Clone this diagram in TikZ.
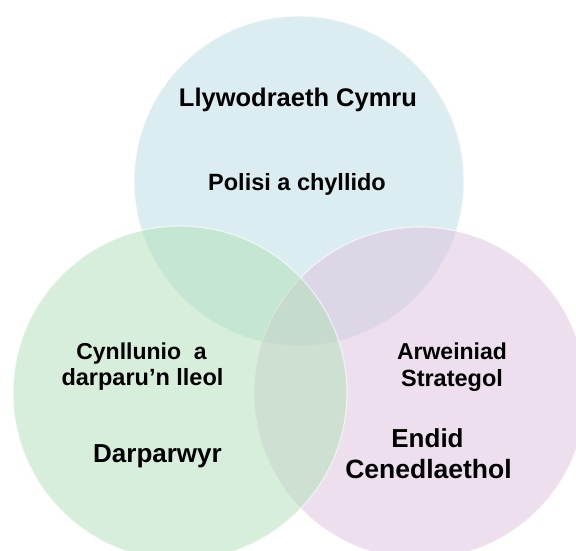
\documentclass[tikz,border=0pt]{standalone}
\usepackage{fontspec}
\setmainfont{Liberation Sans}
\definecolor{cblue}{RGB}{185,221,227}
\definecolor{cgreen}{RGB}{177,225,183}
\definecolor{cpink}{RGB}{221,193,221}
\tikzset{
  venn/.style={circle, minimum size=#1, inner sep=0pt, fill opacity=0.5, draw=white, draw opacity=0.6, line width=1.2pt},
  lbl/.style={anchor=base, inner sep=0pt, font=\bfseries\fontsize{#1}{#1}\selectfont, text=black},
}
\begin{document}
\begin{tikzpicture}[x=1pt,y=-1pt]
\useasboundingbox[fill=white] (0,0) rectangle (576,550);
\node[venn=330pt, fill=cblue]  (top)   at (299,181) {};
\node[venn=332pt, fill=cpink]  (right) at (420,393) {};
\node[venn=334pt, fill=cgreen] (left)  at (180,393) {};
\node[lbl=25.5] (t1) at (298,106) {Llywodraeth Cymru};
\node[lbl=23.5] (t2) at (297,190) {Polisi a chyllido};
\node[lbl=23]   (l1) at (141.5,359) {Cynllunio~~a};
\node[lbl=23.5] (l2) at (142.5,385) {darparu’n lleol};
\node[lbl=26]   (l3) at (157.5,462) {Darparwyr};
\node[lbl=23]   (r1) at (452,359) {Arweiniad};
\node[lbl=23.5] (r2) at (452,386) {Strategol};
\node[lbl=26]   (r3) at (427.5,447) {Endid};
\node[lbl=26.5] (r4) at (428.5,478) {Cenedlaethol};
\end{tikzpicture}
\end{document}
